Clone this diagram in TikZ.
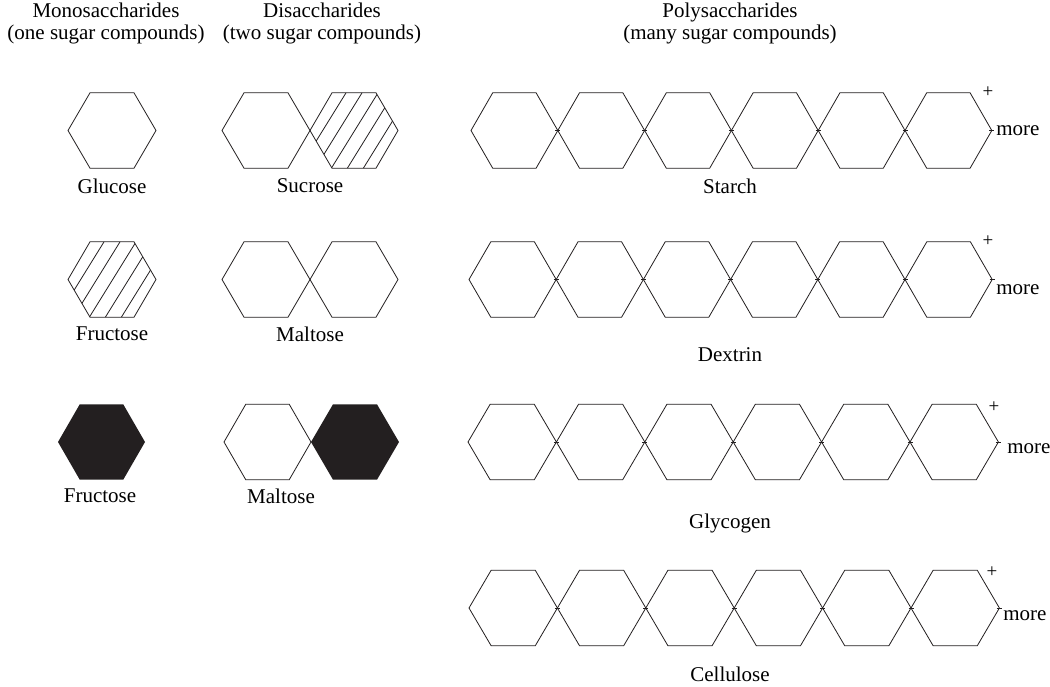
\documentclass[tikz,border=0pt]{standalone}
\usepackage{fontspec}
\setmainfont{Liberation Serif}
\definecolor{ink}{HTML}{231F20}
\tikzset{
  pics/hexa/.style={code={
    \path[pic actions] (-#1,0) -- (-#1/2,-37.7) -- (#1/2,-37.7) -- (#1,0) -- (#1/2,37.7) -- (-#1/2,37.7) -- cycle;
  }},
  pics/hatchhex/.style={code={
    \begin{scope}
      \clip (-#1,0) -- (-#1/2,-37.7) -- (#1/2,-37.7) -- (#1,0) -- (#1/2,37.7) -- (-#1/2,37.7) -- cycle;
      \foreach \i in {-5,...,5}{\draw ({16*\i+0.7-26},42) -- ({16*\i+0.7+26},-42);}
    \end{scope}
    \draw (-#1,0) -- (-#1/2,-37.7) -- (#1/2,-37.7) -- (#1,0) -- (#1/2,37.7) -- (-#1/2,37.7) -- cycle;
  }},
  lbl/.style={font=\fontsize{21}{22}\selectfont, inner sep=0pt, align=center},
  plus/.style={font=\fontsize{19}{19}\selectfont, inner sep=0pt},
}
\begin{document}
\begin{tikzpicture}[x=1pt, y=-1pt, line width=0.8pt, draw=ink]
\useasboundingbox[fill=white] (0,0) rectangle (1050,686);

% headers
\node[lbl] (monoH) at (106,23) {Monosaccharides\\(one sugar compounds)};
\node[lbl] (diH) at (322,23) {Disaccharides\\(two sugar compounds)};
\node[lbl] (polyH) at (730,23) {Polysaccharides\\(many sugar compounds)};

% monosaccharides
\pic[draw=ink] at (112,130.5) {hexa=44};
\pic at (112,279.5) {hatchhex=44};
\pic[fill=ink] at (101.5,442) {hexa=43.5};
\node[lbl] (glucose) at (112,186) {Glucose};
\node[lbl] (fructose1) at (112,334) {Fructose};
\node[lbl] (fructose2) at (100,496) {Fructose};

% disaccharides
\pic[draw=ink] at (266,130.5) {hexa=44};
\pic at (354,130.5) {hatchhex=44};
\pic[draw=ink] at (266,279.5) {hexa=44};
\pic[draw=ink] at (354,279.5) {hexa=44};
\pic[draw=ink] at (267.5,442) {hexa=43.5};
\pic[fill=ink] at (355,442) {hexa=44};
\node[lbl] (sucrose) at (310,186) {Sucrose};
\node[lbl] (maltose1) at (310,334) {Maltose};
\node[lbl] (maltose2) at (281,496) {Maltose};

% polysaccharides
\foreach \L/\r/\y in {471/43.4/130.5, 469/43.6/279.5, 468/44.2/442, 469/44.2/608}{
  \foreach \k in {0,...,5}{\pic[draw=ink] at ({\L+\r*(2*\k+1)},\y) {hexa=\r};}
  \foreach \k in {1,...,6}{\draw[line width=1pt] ({\L+2*\r*\k-2.5},\y) -- ++(5,0);}
}
\node[lbl] (starch) at (730,186) {Starch};
\node[lbl] (dextrin) at (730,355) {Dextrin};
\node[lbl] (glycogen) at (730,523) {Glycogen};
\node[lbl] (cellulose) at (730,674) {Cellulose};

\node[plus] (p1) at (988,92) {+};
\node[plus] (p2) at (988,241) {+};
\node[plus] (p3) at (994,407) {+};
\node[plus] (p4) at (992,572) {+};
\node[lbl, anchor=west] (m1) at (996,130.5) {more};
\node[lbl, anchor=west] (m2) at (996,290) {more};
\node[lbl, anchor=west] (m3) at (1007,449) {more};
\node[lbl, anchor=west] (m4) at (1003,616) {more};
\end{tikzpicture}
\end{document}
